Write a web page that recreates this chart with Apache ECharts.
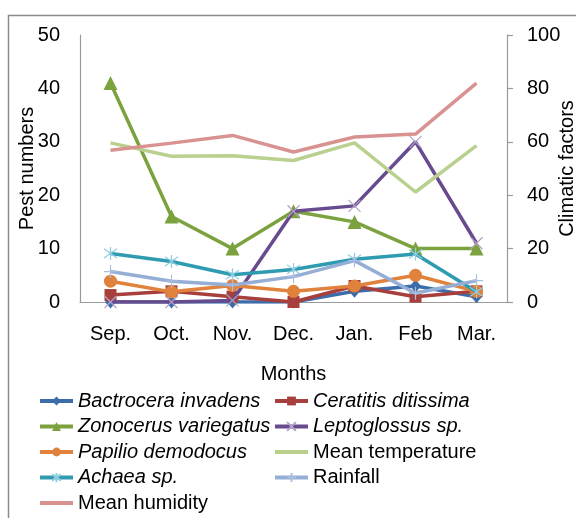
<!DOCTYPE html>
<html><head><meta charset="utf-8">
<script src="https://cdn.jsdelivr.net/npm/echarts@6/dist/echarts.min.js"></script>
<style>html,body{margin:0;padding:0;background:#fff}#c{width:576px;height:518px}</style>
</head><body><div id="c"></div>
<script>
const months = ['Sep.', 'Oct.', 'Nov.', 'Dec.', 'Jan.', 'Feb', 'Mar.'];
const leftTicks = [0, 10, 20, 30, 40, 50];
const rightTicks = [0, 20, 40, 60, 80, 100];
// pest numbers (left axis)
const bactrocera = [0, 0, 0, 0, 2, 3, 1];
const ceratitis = [1.3, 2, 1, 0, 3, 1, 2];
const zonocerus = [41, 16, 10, 17, 15, 10, 10];
const leptoglossus = [0, 0, 0.3, 17, 18, 30, 11];
const papilio = [3.9, 1.9, 3.1, 2, 3, 5, 2];
const achaea = [9.1, 7.6, 5.1, 6.1, 8, 9, 1.9];
// climatic factors
const meanTemperature = [29.8, 27.3, 27.4, 26.5, 29.8, 20.6, 29.3]; // left axis
const rainfall = [11.4, 7.8, 6.4, 9.5, 15.5, 3.3, 8.0];            // right axis
const meanHumidity = [56.8, 59.5, 62.4, 56.2, 61.8, 62.9, 82];     // right axis

const species = ['Bactrocera invadens','Ceratitis ditissima','Zonocerus variegatus','Leptoglossus sp.','Papilio demodocus','Achaea sp.'];
const legendCol1 = ['Bactrocera invadens', 'Zonocerus variegatus', 'Papilio demodocus', 'Achaea sp.', 'Mean humidity'];
const legendCol2 = ['Ceratitis ditissima', 'Leptoglossus sp.', 'Mean temperature', 'Rainfall'];
const noMarker = ['Mean temperature', 'Mean humidity'];

const XP = 'path://M0,0L10,10M10,0L0,10';
const STAR = 'path://M5,0L5,10M1.5,1.5L8.5,8.5M8.5,1.5L1.5,8.5';
const PLUS = 'path://M5,0L5,10M0,5L10,5';

function mk(name, data, yIdx, lineColor, symbol, size, mColor, stroke, z) {
  return {
    name, type: 'line', data, yAxisIndex: yIdx, z: z,
    lineStyle: {color: lineColor, width: 3.5},
    symbol: symbol || 'none', symbolSize: size, showAllSymbol: true,
    itemStyle: stroke ? {color: 'rgba(0,0,0,0)', borderColor: mColor, borderWidth: 1.2}
                      : {color: mColor, borderWidth: 0},
    emphasis: {disabled: true}, animation: false
  };
}

const series = [
  mk('Bactrocera invadens', bactrocera, 0, '#3A6DAA', 'diamond', [11, 13], '#3A6DAA', false, 2),
  mk('Ceratitis ditissima', ceratitis, 0, '#A7403D', 'rect', 12, '#A7403D', false, 3),
  mk('Zonocerus variegatus', zonocerus, 0, '#7BA23F', 'triangle', 14, '#7BA23F', false, 4),
  mk('Leptoglossus sp.', leptoglossus, 0, '#674B8E', XP, 12, '#B3A2C7', true, 5),
  mk('Papilio demodocus', papilio, 0, '#E0823C', 'circle', 13, '#E0823C', false, 6),
  mk('Mean temperature', meanTemperature, 0, '#B9D08F', null, 0, '#B9D08F', false, 7),
  mk('Achaea sp.', achaea, 0, '#2F9BB1', STAR, 13, '#8DCEE0', true, 8),
  mk('Rainfall', rainfall, 1, '#95AED6', PLUS, 13, '#A9BEE0', true, 9),
  mk('Mean humidity', meanHumidity, 1, '#D89391', null, 0, '#D89391', false, 10)
];

const FONT = 'Liberation Sans, Arial, sans-serif';
const legendText = {
  fontSize: 20, color: '#000', fontFamily: FONT, lineHeight: 20,
  rich: {i: {fontSize: 20, fontStyle: 'italic', fontFamily: FONT, color: '#000'},
         n: {fontSize: 20, fontFamily: FONT, color: '#000'}}
};
const fmt = n => species.includes(n) ? '{i|' + n + '}' : '{n|' + n + '}';
const legData = arr => arr.map(n => noMarker.includes(n) ? {name: n, itemStyle: {opacity: 0}} : {name: n});

const chart = echarts.init(document.getElementById('c'), null, {renderer: 'canvas'});
chart.setOption({
  animation: false,
  graphic: [{type: 'rect', shape: {x: 8.5, y: 15.5, width: 700, height: 700},
             style: {fill: 'none', stroke: '#8a8a8a', lineWidth: 1.5}, silent: true}],
  grid: {left: 80, right: 69, top: 35, bottom: 216, outerBoundsMode: 'none', containLabel: false},
  legend: [
    {orient: 'vertical', left: 33, top: 386, height: 300, itemWidth: 33, itemHeight: 11, itemGap: 5.5,
     data: legData(legendCol1), lineStyle: {width: 4},
     formatter: fmt, textStyle: legendText, selectedMode: false},
    {orient: 'vertical', left: 268, top: 386, height: 300, itemWidth: 33, itemHeight: 11, itemGap: 5.5,
     data: legData(legendCol2), lineStyle: {width: 4},
     formatter: fmt, textStyle: legendText, selectedMode: false}
  ],
  xAxis: {
    type: 'category', data: months, boundaryGap: true,
    name: 'Months', nameLocation: 'middle', nameGap: 62, nameMoveOverlap: false,
    nameTextStyle: {fontSize: 20, color: '#000', fontFamily: FONT},
    axisLine: {lineStyle: {color: '#9a9a9a', width: 1.2}},
    axisTick: {show: false},
    axisLabel: {fontSize: 20, color: '#000', fontFamily: FONT, margin: 22, interval: 0}
  },
  yAxis: [
    {type: 'value', min: 0, max: 50, interval: 10, position: 'left',
     name: 'Pest numbers', nameLocation: 'middle', nameGap: 43, nameRotate: 90, nameMoveOverlap: false,
     nameTextStyle: {fontSize: 20, color: '#000', fontFamily: FONT},
     axisLine: {show: true, lineStyle: {color: '#9a9a9a', width: 1.2}},
     axisTick: {show: false}, splitLine: {show: false},
     axisLabel: {fontSize: 20, color: '#000', fontFamily: FONT, margin: 20,
                 formatter: v => leftTicks.includes(v) ? String(v) : ''}},
    {type: 'value', min: 0, max: 100, interval: 20, position: 'right',
     name: 'Climatic factors', nameLocation: 'middle', nameGap: 50, nameRotate: 90, nameMoveOverlap: false,
     nameTextStyle: {fontSize: 20, color: '#000', fontFamily: FONT},
     axisLine: {show: true, lineStyle: {color: '#9a9a9a', width: 1.2}},
     axisTick: {show: true, length: 6, lineStyle: {color: '#9a9a9a', width: 1.2}},
     splitLine: {show: false},
     axisLabel: {fontSize: 20, color: '#000', fontFamily: FONT, margin: 20,
                 formatter: v => rightTicks.includes(v) ? String(v) : ''}}
  ],
  series
});
</script></body></html>
